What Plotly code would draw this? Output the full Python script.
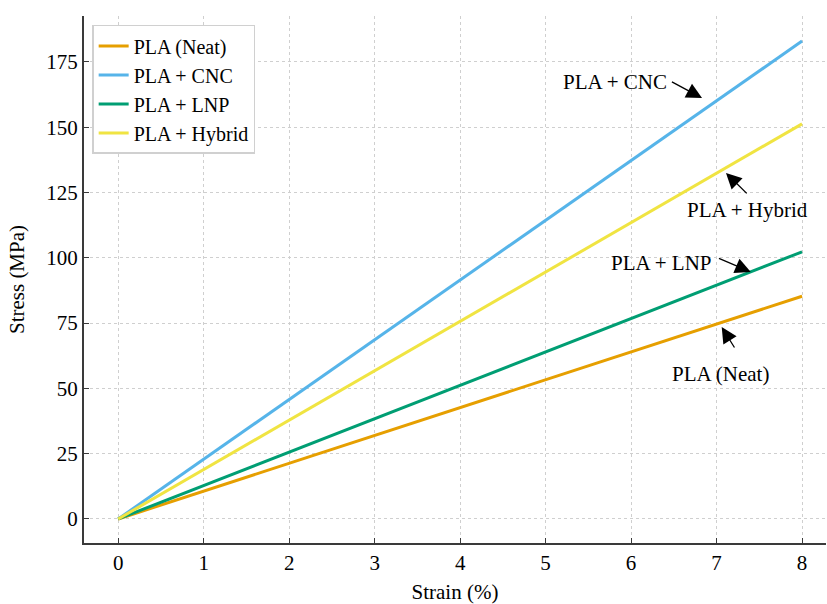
import plotly.graph_objects as go

strain = [0, 1, 2, 3, 4, 5, 6, 7, 8]
neat = [0, 10.7, 21.3, 32.0, 42.7, 53.3, 64.0, 74.7, 85.3]
cnc = [0, 22.9, 45.8, 68.6, 91.5, 114.4, 137.3, 160.1, 183.0]
lnp = [0, 12.8, 25.6, 38.4, 51.2, 64.0, 76.7, 89.5, 102.3]
hybrid = [0, 18.9, 37.8, 56.7, 75.6, 94.6, 113.5, 132.4, 151.3]

series = [
    ("PLA (Neat)", neat, "#E69F00"),
    ("PLA + CNC", cnc, "#56B4E9"),
    ("PLA + LNP", lnp, "#009E73"),
    ("PLA + Hybrid", hybrid, "#F0E442"),
]

x_ticks = [0, 1, 2, 3, 4, 5, 6, 7, 8]
y_ticks = [0, 25, 50, 75, 100, 125, 150, 175]

# label text and its centre
labels = [
    ("PLA + CNC", 5.81, 167.4),
    ("PLA + Hybrid", 7.36, 118.3),
    ("PLA + LNP", 6.36, 98.0),
    ("PLA (Neat)", 7.05, 55.5),
]
# arrows: head (x, y), tail (ax, ay)
arrows = [
    (6.83, 161.2, 6.46, 167.7),
    (7.11, 132.5, 7.37, 124.1),
    (7.40, 94.6, 7.01, 100.0),
    (7.06, 73.5, 7.22, 65.1),
]

FONT = "Liberation Serif, Times New Roman, serif"
FS = 21

fig = go.Figure()
for name, vals, col in series:
    fig.add_trace(go.Scatter(x=strain, y=vals, mode="lines", name=name,
                             line=dict(color=col, width=3)))

for txt, x, y in labels:
    fig.add_annotation(x=x, y=y, xref="x", yref="y", text=txt, showarrow=False,
                       font=dict(family=FONT, size=FS, color="black"))

for x, y, ax, ay in arrows:
    fig.add_annotation(x=x, y=y, ax=ax, ay=ay, xref="x", yref="y",
                       axref="x", ayref="y", text="", showarrow=True,
                       arrowhead=2, arrowsize=2.4, arrowwidth=1.3,
                       arrowcolor="black", standoff=0, startstandoff=0)

axis_common = dict(
    showgrid=True, gridcolor="#cfcfcf", griddash="3px,3px", gridwidth=1,
    showline=True, linecolor="#3a3a3a", linewidth=2,
    ticks="inside", ticklen=5, tickcolor="#3a3a3a",
    zeroline=False, tickfont=dict(size=FS),
)

fig.update_layout(
    width=827, height=604,
    margin=dict(l=84, r=1, t=16, b=61),
    plot_bgcolor="white", paper_bgcolor="white",
    font=dict(family=FONT, size=FS, color="black"),
    showlegend=True,
    legend=dict(x=0.011, y=0.983, xanchor="left", yanchor="top",
                bgcolor="white", bordercolor="#d0d0d0", borderwidth=1.5,
                font=dict(family=FONT, size=20, color="black"),
                tracegroupgap=0, itemwidth=30),
)
fig.update_xaxes(range=[-0.4, 8.28], tickvals=x_ticks,
                 ticktext=[str(v) for v in x_ticks],
                 title=dict(text="Strain (%)", standoff=14, font=dict(size=FS)),
                 **axis_common)
fig.update_yaxes(range=[-9.2, 192.6], tickvals=y_ticks,
                 ticktext=[str(v) for v in y_ticks],
                 title=dict(text="Stress (MPa)", standoff=16, font=dict(size=FS)),
                 **axis_common)

fig.write_html("out.html")
